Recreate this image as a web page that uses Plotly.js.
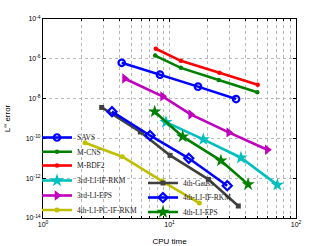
<!DOCTYPE html>
<html><head><meta charset="utf-8">
<script src="https://cdn.plot.ly/plotly-3.0.1.min.js"></script>
<style>html,body{margin:0;padding:0;background:#fff}#c{width:327px;height:246px}</style>
</head><body><div id="c"></div>
<script>
// Data
const savX = [4.19, 8.41, 16.8, 33.6];
const savY = [6.3e-7, 1.6e-7, 4.0e-8, 9.5e-9];
const cnsX = [7.7, 12.3, 24.5, 49.4];
const cnsY = [1.45e-6, 3.5e-7, 8.6e-8, 2.1e-8];
const bdfX = [7.8, 12.3, 24.8, 49.8];
const bdfY = [3.2e-6, 7.9e-7, 2.0e-7, 5.0e-8];
const ifrk3X = [9.38, 18.5, 36.7, 71.2];
const ifrk3Y = [6.6e-10, 8.9e-11, 1.07e-11, 4.6e-13];
const eps3X = [4.41, 8.81, 14.7, 29.4, 59.3];
const eps3Y = [1.02e-7, 1.3e-8, 1.6e-9, 2.0e-10, 2.7e-11];
const pc4X = [2.15, 4.24, 8.72, 17.2];
const pc4Y = [6.0e-11, 1.2e-11, 7.2e-13, 5.6e-14];
const gaussX = [2.91, 5.88, 10.1, 20.3, 35.0];
const gaussY = [3.6e-9, 2.1e-10, 1.4e-11, 8.7e-13, 4.0e-14];
const ifrk4X = [3.51, 7.01, 14.2, 28.6];
const ifrk4Y = [2.2e-9, 1.4e-10, 1.0e-11, 4.2e-13];
const eps4X = [7.64, 12.7, 25.5, 41.8];
const eps4Y = [2.2e-9, 1.23e-10, 7.6e-12, 4.9e-13];

const names = ['SAVS','M-CNS','M-BDF2','3rd-LI-IF-RKM','3rd-LI-EPS','4th-LI-PC-IF-RKM','4th-Gauss','4th-LI-IF-RKM','4th-LI-EPS'];
const yTickVals = [1e-14,1e-12,1e-10,1e-8,1e-6,1e-4];
const yTickText = ['10<sup>-14</sup>','10<sup>-12</sup>','10<sup>-10</sup>','10<sup>-8</sup>','10<sup>-6</sup>','10<sup>-4</sup>'];
const xTickVals = [1,10,100];
const xTickText = ['10<sup>0</sup>','10<sup>1</sup>','10<sup>2</sup>'];
const xMinor = [2,3,4,5,6,7,8,9,20,30,40,50,60,70,80,90];

const L = 43, T = 19, R = 296, B = 218, W = 327, H = 246;

const lw = 2.6;
function tr(x, y, name, color, sym, size, leg, opts) {
  const m = Object.assign({symbol: sym, size: size, color: color, line: {color: color, width: 0}}, opts || {});
  return {x: x, y: y, name: name, type: 'scatter', mode: 'lines+markers',
    line: {color: color, width: lw}, marker: m, legend: leg};
}
const data = [
  tr(savX, savY, names[0], '#0000ff', 'circle-open', 6.5, 'legend', {line:{color:'#0000ff', width:2.2}}),
  tr(cnsX, cnsY, names[1], '#008000', 'circle', 4.5, 'legend2'),
  tr(bdfX, bdfY, names[2], '#ff0000', 'circle', 4.5, 'legend3'),
  tr(ifrk3X, ifrk3Y, names[3], '#00bfbf', 'star', 10, 'legend4'),
  tr(eps3X, eps3Y, names[4], '#bf00bf', 'triangle-right', 9, 'legend5'),
  tr(pc4X, pc4Y, names[5], '#bfbf00', 'circle', 5, 'legend6'),
  tr(gaussX, gaussY, names[6], '#404040', 'square', 5, 'legend7'),
  tr(ifrk4X, ifrk4Y, names[7], '#0000ff', 'diamond-open', 7, 'legend8', {line:{color:'#0000ff', width:2.2}}),
  tr(eps4X, eps4Y, names[8], '#008000', 'star', 10, 'legend9')
];

// legend entry positions (pixel x of legend box, pixel y centre), two columns
const legPix = [[37,137.5],[37,151.7],[37,165.5],[37,180.5],[37,195.5],[37,210],[143,183],[143,197.5],[143,212]];
const layout = {
  width: W, height: H,
  margin: {l: L, r: W - R, t: T, b: H - B, pad: 0},
  paper_bgcolor: '#fff', plot_bgcolor: '#fff',
  font: {family: 'Liberation Sans, Arial, sans-serif', size: 7, color: '#000'},
  xaxis: {type: 'log', range: [0, 2], tickvals: xTickVals, ticktext: xTickText,
    ticks: 'inside', ticklen: 3, tickcolor: '#000', showline: true, linecolor: '#000', linewidth: 1, mirror: 'ticks',
    showgrid: true, gridcolor: '#b8b8b8', griddash: 'dot', gridwidth: 1, zeroline: false,
    minor: {tickvals: xMinor, ticks: 'inside', ticklen: 2, tickcolor: '#000', showgrid: true, gridcolor: '#b8b8b8', griddash: 'dot', gridwidth: 1},
    tickfont: {size: 7}, title: {text: 'CPU time', font: {size: 8}, standoff: 11}},
  yaxis: {type: 'log', range: [-14, -4], tickvals: yTickVals, ticktext: yTickText,
    ticks: 'inside', ticklen: 3, tickcolor: '#000', showline: true, linecolor: '#000', linewidth: 1, mirror: 'ticks',
    showgrid: true, gridcolor: '#b8b8b8', griddash: 'dot', gridwidth: 1, zeroline: false,
    tickfont: {size: 7}, title: {text: 'L<sup>∞</sup> error', font: {size: 8}, standoff: 13}},
  showlegend: true
};
const plotW = R - L, plotH = B - T;
legPix.forEach((p, i) => {
  const key = i === 0 ? 'legend' : 'legend' + (i + 1);
  layout[key] = {
    x: (p[0] - L) / plotW, y: (B - p[1]) / plotH, xanchor: 'left', yanchor: 'middle',
    bgcolor: 'rgba(0,0,0,0)', borderwidth: 0, itemwidth: 30,
    font: {family: 'Liberation Serif, Times New Roman, serif', size: 7.5, color: '#222'},
    tracegroupgap: 0
  };
});
Plotly.newPlot('c', data, layout, {staticPlot: true, displayModeBar: false});
</script></body></html>
